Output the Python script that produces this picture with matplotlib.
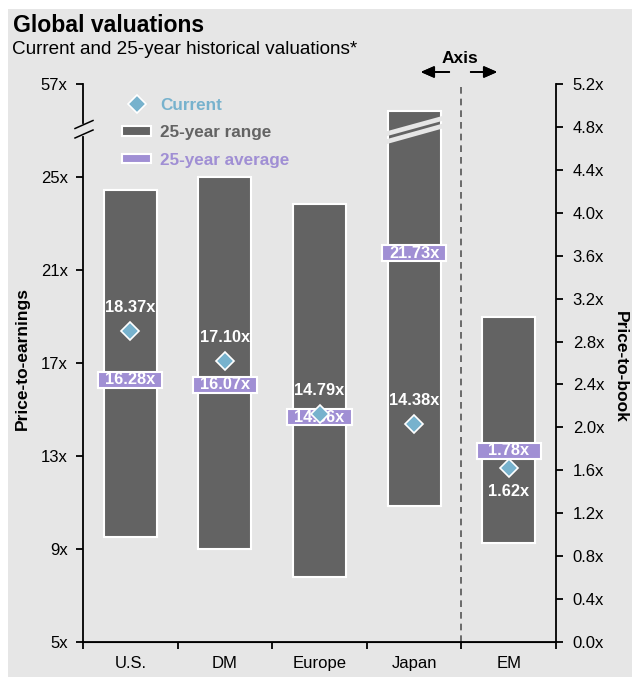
import numpy as np
import matplotlib
matplotlib.use('Agg')
import matplotlib.pyplot as plt
from matplotlib.patches import Rectangle, Patch
from matplotlib.lines import Line2D

plt.rcParams['font.family'] = ['Liberation Sans', 'DejaVu Sans']

# price-to-earnings markets (left axis)
pe_cats = ['U.S.', 'DM', 'Europe', 'Japan']
pe_low = [9.5, 9.0, 7.8, 10.85]
pe_high = [24.45, 25.0, 23.85, 27.85]   # Japan top sits above the axis break
pe_current = [18.37, 17.10, 14.79, 14.38]
pe_avg = [16.28, 16.07, 14.66, 21.73]

# price-to-book market (right axis)
pb_cats = ['EM']
pb_low = [0.92]
pb_high = [3.03]
pb_current = [1.62]
pb_avg = [1.78]

left_ticks = [5, 9, 13, 17, 21, 25, 29]
left_labels = ['5x', '9x', '13x', '17x', '21x', '25x', '57x']
right_ticks = np.arange(0, 5.21, 0.4)

BG = '#e6e6e6'
BAR = '#636363'
PURPLE = '#a08fd4'
BLUE = '#77b2cd'

W, H = 632, 677
fig = plt.figure(figsize=(W / 100, H / 100), dpi=100)
fig.patch.set_facecolor('white')
fig.patches.append(Rectangle((8 / W, 0), 1 - 8 / W, (H - 9) / H,
                             transform=fig.transFigure, fc=BG, ec='none', zorder=-10))

ax = fig.add_axes([83 / W, 35 / H, 473 / W, 558 / H])
ax.set_facecolor('none')
ax2 = ax.twinx()
ax2.set_facecolor('none')

x_pe = np.arange(len(pe_cats))
x_pb = np.arange(len(pe_cats), len(pe_cats) + len(pb_cats))
bw = 0.56
box_w = 0.68
box_h_left = 16 / 23.25
box_h_right = 16 / 107.3

def draw_group(a, xs, low, high, cur, avg, box_h, below=False):
    lo = np.array(low)
    hi = np.array(high)
    a.bar(xs, hi - lo, bottom=lo, width=bw, color=BAR, edgecolor='white', linewidth=1.5, zorder=2)
    av = np.array(avg)
    a.bar(xs, box_h, bottom=av - box_h / 2, width=box_w, color=PURPLE,
          edgecolor='white', linewidth=1.5, zorder=3)
    for xi, v in zip(xs, avg):
        a.text(xi, v, f'{v:.2f}x', color='white', fontsize=11.8, fontweight='bold',
               ha='center', va='center', zorder=4)
    a.plot(xs, cur, ls='none', marker='D', ms=9, color=BLUE, mec='white', mew=1.2, zorder=5)
    for xi, v in zip(xs, cur):
        a.annotate(f'{v:.2f}x', (xi, v), xytext=(0, -16.5 if below else 17),
                   textcoords='offset points', color='white', fontsize=11.8,
                   fontweight='bold', ha='center', va='center', zorder=5)

draw_group(ax, x_pe, pe_low, pe_high, pe_current, pe_avg, box_h_left)
draw_group(ax2, x_pb, pb_low, pb_high, pb_current, pb_avg, box_h_right, below=True)

# break stripes across the Japan bar
jx = x_pe[3]
for y0, y1 in [(26.85, 27.52), (26.51, 27.19)]:
    ax.plot([jx - bw / 2 - 0.02, jx + bw / 2 + 0.02], [y0, y1], color=BG, lw=3.4,
            solid_capstyle='butt', zorder=2.5)

ax.set_xlim(-0.5, 4.5)
ax.set_ylim(5, 29)
ax2.set_ylim(0, 5.2)

ax.set_yticks(left_ticks)
ax.set_yticklabels(left_labels)
ax2.set_yticks(right_ticks)
ax2.set_yticklabels([f'{v:.1f}x' for v in right_ticks])

ax.set_xticks(np.arange(-0.5, 4.6, 1))
ax.set_xticklabels([])
ax.set_xticks(np.arange(5), minor=True)
ax.set_xticklabels(pe_cats + pb_cats, minor=True)
ax.tick_params(axis='x', which='major', length=5, width=1.3, direction='out')
ax.tick_params(axis='x', which='minor', length=0, pad=10, labelsize=12)
ax.tick_params(axis='y', length=5, width=1.3, direction='out', pad=6, labelsize=12)
ax2.tick_params(axis='y', length=5, width=1.3, direction='out', pad=7, labelsize=12)

for a in (ax, ax2):
    a.spines['top'].set_visible(False)
    a.spines['left'].set_visible(False)
    a.spines['right'].set_visible(False)
ax.spines['bottom'].set_linewidth(1.3)
ax2.spines['right'].set_visible(True)
ax2.spines['right'].set_linewidth(1.3)

# broken left spine
yt = ax.get_yaxis_transform()
ax.plot([0, 0], [5, 26.72], color='black', lw=1.3, transform=yt, clip_on=False)
ax.plot([0, 0], [27.32, 29], color='black', lw=1.3, transform=yt, clip_on=False)
def px(dx, ypix):
    return dx / 473, (642 - ypix) / 558
for ya, yb in [(128.5, 120.5), (138, 130)]:
    (xa, ya_), (xb, yb_) = px(-8, ya), px(10, yb)
    ax.plot([xa, xb], [ya_, yb_], color='black', lw=1.1, transform=ax.transAxes, clip_on=False)

# divider between the two axes
ax.axvline(3.5, color='#555555', ls=(0, (4, 3)), lw=1.2, zorder=1)

# legend
handles = [Line2D([], [], ls='none', marker='D', ms=9, color=BLUE, mec='white', mew=1.2),
           Patch(fc=BAR, ec='white', lw=1.5),
           Patch(fc=PURPLE, ec='white', lw=1.5)]
ax.legend(handles, ['Current', '25-year range', '25-year average'], loc='upper left',
          bbox_to_anchor=(0.083, 0.975), frameon=False, borderpad=0, borderaxespad=0,
          handlelength=1.7, handleheight=0.5, handletextpad=0.5, labelspacing=0.72,
          prop={'weight': 'bold', 'size': 12.3}, labelcolor=[BLUE, BAR, PURPLE])

# titles and axis labels
fig.text(13 / W, 1 - 32 / H, 'Global valuations', fontsize=16.6, fontweight='bold', va='baseline')
fig.text(12 / W, 1 - 54 / H, 'Current and 25-year historical valuations*', fontsize=13.6, va='baseline')
fig.text(22 / W, 1 - 358 / H, 'Price-to-earnings', rotation=90, fontsize=12.5,
         fontweight='bold', ha='center', va='center')
fig.text(620 / W, 1 - 367 / H, 'Price-to-book', rotation=270, fontsize=12.5,
         fontweight='bold', ha='center', va='center')

# "Axis" marker with arrows
fig.text(460 / W, 1 - 63 / H, 'Axis', fontsize=12.5, fontweight='bold', ha='center', va='baseline')
ya = 1 - 72 / H
arrow = dict(arrowstyle='-|>,head_length=0.8,head_width=0.35', color='black', lw=1.3)
fig.add_artist(plt.annotate('', xy=(418 / W, ya), xytext=(452 / W, ya),
                            xycoords='figure fraction', arrowprops=arrow))
fig.add_artist(plt.annotate('', xy=(500 / W, ya), xytext=(468 / W, ya),
                            xycoords='figure fraction', arrowprops=arrow))

fig.savefig('out.png', dpi=100)
